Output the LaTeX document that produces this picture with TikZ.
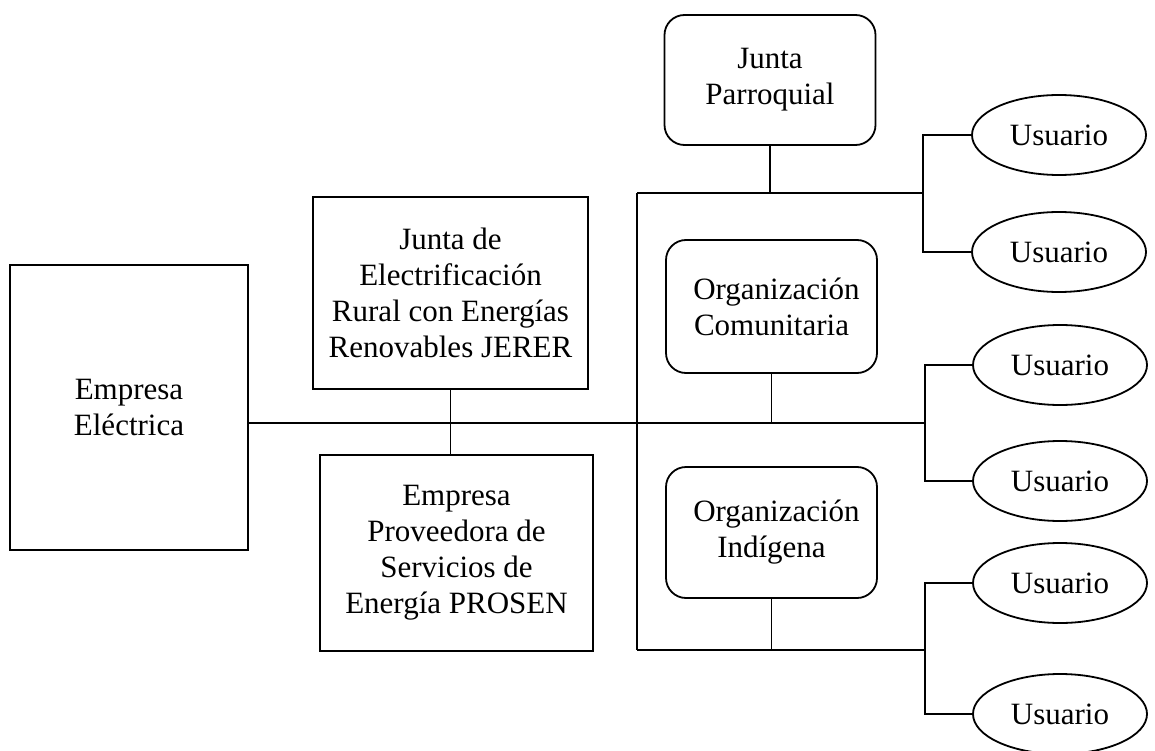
\documentclass[tikz,border=0pt]{standalone}
\usepackage{fontspec}
\setmainfont{Liberation Serif}
\usetikzlibrary{shapes.geometric}

\begin{document}
\begin{tikzpicture}[x=1pt, y=-1pt, line width=1.8pt,
	every node/.style={font=\fontsize{31}{36}\selectfont, align=center},
	caja/.style={draw=black, rectangle, inner sep=0pt},
	redonda/.style={draw=black, rectangle, rounded corners=20pt, inner sep=0pt,
		minimum width=211pt},
	usuario/.style={draw=black, ellipse, inner sep=0pt, minimum width=174pt,
		minimum height=80pt}]
	\useasboundingbox (0, 0) rectangle (1155, 751);
	% cajas de la izquierda
	\draw (129, 407.5) node[caja, minimum width=238pt, minimum height=285pt] (empresa) {Empresa\\Eléctrica};
	\draw (450.5, 293) node[caja, minimum width=275pt, minimum height=192pt] (jerer) {Junta de\\Electrificación\\Rural con Energías\\Renovables JERER};
	\draw (456.5, 553) node[caja, minimum width=273pt, minimum height=196pt] (prosen) {Empresa\\Proveedora de\\Servicios de\\Energía PROSEN};
	% organizaciones
	\draw (770, 80) node[redonda, minimum height=130pt] (junta) {Junta\\Parroquial};
	\draw (771.5, 306.5) node[redonda, minimum height=133pt] (orgcom) {\hspace*{10pt}Organización\\Comunitaria};
	\draw (771.5, 532.5) node[redonda, minimum height=131pt] (orgind) {\hspace*{10pt}Organización\\Indígena};
	% usuarios
	\draw (1059, 135) node[usuario] (u1) {Usuario};
	\draw (1059, 252) node[usuario] (u2) {Usuario};
	\draw (1060, 365) node[usuario] (u3) {Usuario};
	\draw (1060, 481) node[usuario] (u4) {Usuario};
	\draw (1060, 583) node[usuario] (u5) {Usuario};
	\draw (1060, 714) node[usuario] (u6) {Usuario};
	% puntos de las lineas
	\coordinate (b1) at (637, 193);
	\coordinate (b2) at (637, 650);
	\coordinate (t) at (923, 193);
	\coordinate (m) at (925, 423);
	\coordinate (r) at (925, 650);
	% lineas
	\draw (empresa.east |- m) -- (m);
	\draw (jerer.south) -- (jerer.south |- prosen.north);
	\draw (b1) -- (b2);
	\draw (b1) -- (t);
	\draw (b2) -- (r);
	\draw (junta.south) -- (junta.south |- b1);
	\draw (orgcom.south) -- (orgcom.south |- m);
	\draw (orgind.south) -- (orgind.south |- b2);
	\draw (u1.west) -- (u1.west -| t) -- (u2.west -| t) -- (u2.west);
	\draw (u3.west) -- (u3.west -| m) -- (u4.west -| m) -- (u4.west);
	\draw (u5.west) -- (u5.west -| r) -- (u6.west -| r) -- (u6.west);
\end{tikzpicture}
\end{document}
